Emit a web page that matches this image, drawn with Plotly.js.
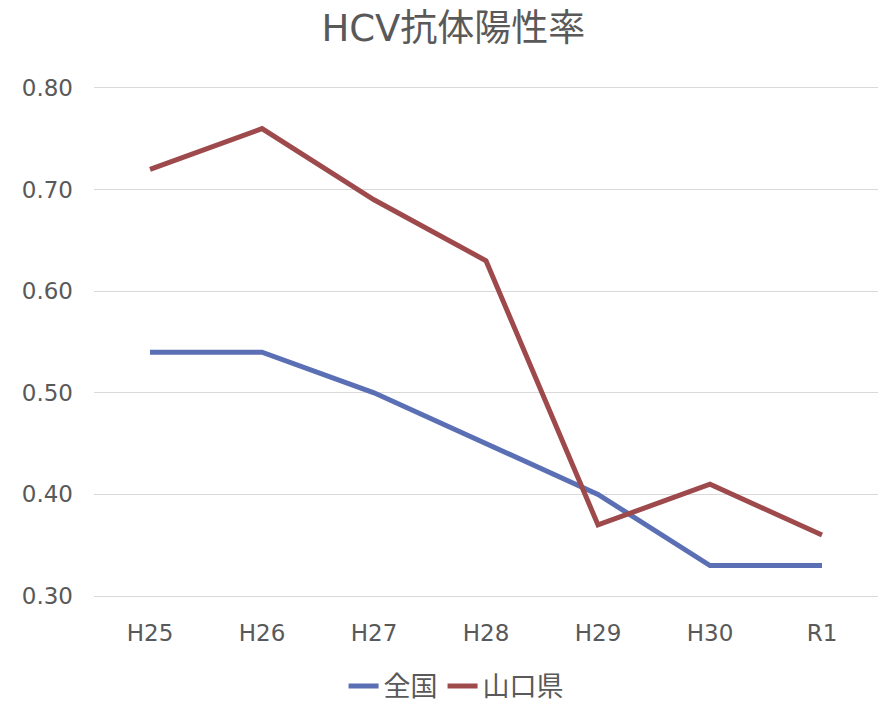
<!DOCTYPE html>
<html>
<head>
<meta charset="utf-8">
<script src="https://cdn.plot.ly/plotly-3.0.1.min.js"></script>
<style>html,body{margin:0;padding:0;background:#fff;}#chart{width:889px;height:704px;}</style>
</head>
<body>
<div id="chart"></div>
<script>
const categories = ["H25", "H26", "H27", "H28", "H29", "H30", "R1"];
const zenkoku = [0.54, 0.54, 0.50, 0.45, 0.40, 0.33, 0.33];
const yamaguchi = [0.72, 0.76, 0.69, 0.63, 0.37, 0.41, 0.36];
const seriesNames = ["全国", "山口県"];
const yTicks = [0.30, 0.40, 0.50, 0.60, 0.70, 0.80];

const FONT = "DejaVu Sans, 'Noto Sans CJK JP', sans-serif";
const traces = [
  {x: categories, y: zenkoku, name: seriesNames[0], type: "scatter", mode: "lines",
   line: {color: "#5B6FB4", width: 5}},
  {x: categories, y: yamaguchi, name: seriesNames[1], type: "scatter", mode: "lines",
   line: {color: "#9E4A4C", width: 5}}
];
const layout = {
  width: 889, height: 704,
  margin: {l: 94, r: 11, t: 88, b: 108},
  paper_bgcolor: "#fff", plot_bgcolor: "#fff",
  font: {family: FONT, color: "#595959", size: 23},
  title: {text: "HCV抗体陽性率", font: {family: FONT, size: 37, color: "#595959"},
          x: 0.51, xref: "container", xanchor: "center", y: 0.96, yref: "container", yanchor: "middle"},
  xaxis: {type: "category", range: [-0.5, categories.length - 0.5], showgrid: false, zeroline: false,
          showline: true, mirror: true, linecolor: "#D9D9D9", linewidth: 1, ticks: "",
          ticklabelstandoff: 16, tickfont: {size: 23, color: "#595959"}},
  yaxis: {range: [0.3, 0.8], tickvals: yTicks, tickformat: ".2f", showgrid: true, gridcolor: "#D9D9D9",
          gridwidth: 1, zeroline: false, showline: false, ticks: "", ticklabelstandoff: 20,
          tickfont: {size: 23, color: "#595959"}},
  showlegend: true,
  legend: {orientation: "h", x: 0.513, xref: "container", xanchor: "center", y: 0.025, yref: "container",
           yanchor: "middle", font: {size: 27, color: "#595959"}, itemwidth: 30, tracegroupgap: 0}
};
Plotly.newPlot("chart", traces, layout, {displayModeBar: false, staticPlot: true});
</script>
</body>
</html>
